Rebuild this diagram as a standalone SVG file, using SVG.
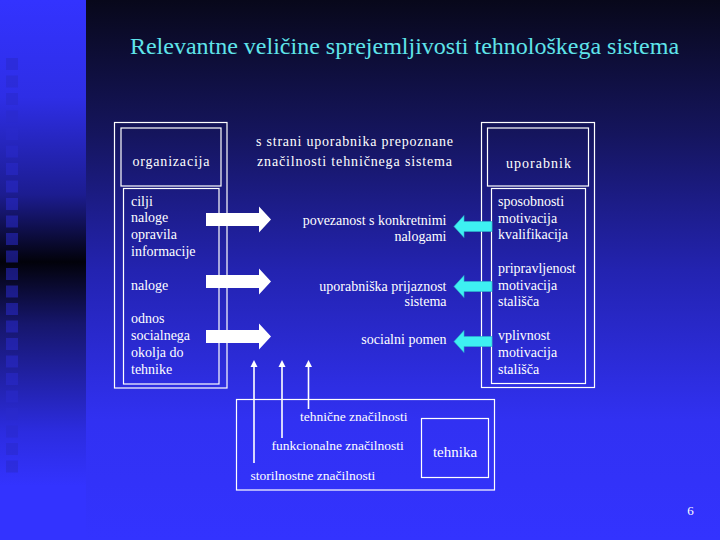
<svg xmlns="http://www.w3.org/2000/svg" width="720" height="540" viewBox="0 0 720 540">
  <defs>
    <linearGradient id="bgMain" x1="0" y1="0" x2="0" y2="1">
      <stop offset="0" stop-color="#08081a"/>
      <stop offset="0.25" stop-color="#15155e"/>
      <stop offset="0.5" stop-color="#2323b0"/>
      <stop offset="0.78" stop-color="#3131f2"/>
      <stop offset="1" stop-color="#3333ff"/>
    </linearGradient>
    <linearGradient id="bgLeft" x1="0" y1="0" x2="0" y2="1">
      <stop offset="0" stop-color="#3333ff"/>
      <stop offset="0.18" stop-color="#2e2ee6"/>
      <stop offset="0.36" stop-color="#1c1c90"/>
      <stop offset="0.485" stop-color="#02020a"/>
      <stop offset="0.6" stop-color="#16166c"/>
      <stop offset="0.8" stop-color="#2c2ce0"/>
      <stop offset="0.9" stop-color="#3333ff"/>
      <stop offset="1" stop-color="#3333ff"/>
    </linearGradient>
    <polygon id="rArrow" points="206,213 259,213 259,206.5 271,219.5 259,232.5 259,226 206,226"/>
    <polygon id="lArrow" points="454,0 464,-11 464,-5 492,-5 492,5 464,5 464,11"/>
    <polygon id="upHead" points="-3.5,7 0,0 3.5,7"/>
  </defs>
  <style>
    .box { fill: none; stroke: #ffffff; stroke-width: 1.2; }
    .t { font-family: "Liberation Serif", "Tinos", "DejaVu Serif", "Times New Roman", serif; fill: #ffffff; font-size: 14px; }
    .ts { font-family: "Liberation Serif", "Tinos", "DejaVu Serif", "Times New Roman", serif; fill: #ffffff; font-size: 13.5px; }
    .title { font-family: "Liberation Serif", "Tinos", "DejaVu Serif", "Times New Roman", serif; fill: #5fe4ea; font-size: 24px; text-anchor: middle; }
    .r { text-anchor: end; }
    .c { text-anchor: middle; }
    .sq { fill: #2a2acc; opacity: 0.55; }
    .wa { fill: #ffffff; }
    .ca { fill: #3ef0f2; stroke: #2bb8cc; stroke-width: 0.6; }
    .vl { stroke: #ffffff; stroke-width: 1.6; fill: none; }
    .hd { fill: #ffffff; }
  </style>

  <!-- background -->
  <rect x="0" y="0" width="720" height="540" fill="url(#bgMain)"/>
  <rect x="0" y="0" width="86" height="540" fill="url(#bgLeft)"/>
  <g id="squares">
    <rect class="sq" x="6" y="58" width="12" height="12"/>
    <rect class="sq" x="6" y="75.5" width="12" height="12"/>
    <rect class="sq" x="6" y="93" width="12" height="12"/>
    <rect class="sq" x="6" y="110.5" width="12" height="12"/>
    <rect class="sq" x="6" y="128" width="12" height="12"/>
    <rect class="sq" x="6" y="145.5" width="12" height="12"/>
    <rect class="sq" x="6" y="163" width="12" height="12"/>
    <rect class="sq" x="6" y="180.5" width="12" height="12"/>
    <rect class="sq" x="6" y="198" width="12" height="12"/>
    <rect class="sq" x="6" y="215.5" width="12" height="12"/>
    <rect class="sq" x="6" y="233" width="12" height="12"/>
    <rect class="sq" x="6" y="250.5" width="12" height="12"/>
    <rect class="sq" x="6" y="268" width="12" height="12"/>
    <rect class="sq" x="6" y="285.5" width="12" height="12"/>
    <rect class="sq" x="6" y="303" width="12" height="12"/>
    <rect class="sq" x="6" y="320.5" width="12" height="12"/>
    <rect class="sq" x="6" y="338" width="12" height="12"/>
    <rect class="sq" x="6" y="355.5" width="12" height="12"/>
    <rect class="sq" x="6" y="373" width="12" height="12"/>
    <rect class="sq" x="6" y="390.5" width="12" height="12"/>
    <rect class="sq" x="6" y="408" width="12" height="12"/>
    <rect class="sq" x="6" y="425.5" width="12" height="12"/>
    <rect class="sq" x="6" y="443" width="12" height="12"/>
    <rect class="sq" x="6" y="460.5" width="12" height="12"/>
  </g>

  <!-- title -->
  <text id="title" class="title" x="404.5" y="54">Relevantne veličine sprejemljivosti tehnološkega sistema</text>

  <!-- organizacija node -->
  <g id="organizacija">
    <rect class="box" x="114.5" y="122.5" width="112.5" height="265.5"/>
    <rect class="box" x="121" y="128" width="100" height="58"/>
    <rect class="box" x="123.5" y="188.5" width="95.5" height="195.5"/>
    <text class="t c" x="171" y="166" textLength="77" lengthAdjust="spacing">organizacija</text>
    <text class="t" x="131" y="206">cilji</text>
    <text class="t" x="131" y="222">naloge</text>
    <text class="t" x="131" y="239">opravila</text>
    <text class="t" x="131" y="256">informacije</text>
    <text class="t" x="131" y="290">naloge</text>
    <text class="t" x="131" y="323">odnos</text>
    <text class="t" x="131" y="340">socialnega</text>
    <text class="t" x="131" y="357">okolja do</text>
    <text class="t" x="131" y="374">tehnike</text>
  </g>

  <!-- middle heading -->
  <g id="znacilnosti">
    <text class="t c" x="354.5" y="146" textLength="197" lengthAdjust="spacing">s strani uporabnika prepoznane</text>
    <text class="t c" x="354.5" y="166" textLength="195" lengthAdjust="spacing">značilnosti tehničnega sistema</text>
    <text class="t r" x="446.5" y="225">povezanost s konkretnimi</text>
    <text class="t r" x="446.5" y="241">nalogami</text>
    <text class="t r" x="446.5" y="291">uporabniška prijaznost</text>
    <text class="t r" x="446.5" y="306">sistema</text>
    <text class="t r" x="446.5" y="344">socialni pomen</text>
  </g>

  <!-- uporabnik node -->
  <g id="uporabnik">
    <rect class="box" x="481.5" y="122.5" width="113" height="265"/>
    <rect class="box" x="487.5" y="128" width="101" height="58"/>
    <rect class="box" x="491.5" y="188.5" width="94" height="195"/>
    <text class="t c" x="538.5" y="168" textLength="65" lengthAdjust="spacing">uporabnik</text>
    <text class="t" x="498" y="206">sposobnosti</text>
    <text class="t" x="498" y="223">motivacija</text>
    <text class="t" x="498" y="239">kvalifikacija</text>
    <text class="t" x="498" y="273">pripravljenost</text>
    <text class="t" x="498" y="290">motivacija</text>
    <text class="t" x="498" y="306">stališča</text>
    <text class="t" x="498" y="340">vplivnost</text>
    <text class="t" x="498" y="357">motivacija</text>
    <text class="t" x="498" y="374">stališča</text>
  </g>

  <!-- tehnika node -->
  <g id="tehnika">
    <rect class="box" x="236.5" y="399.5" width="258" height="90.5"/>
    <rect class="box" x="421.5" y="418.5" width="67" height="59"/>
    <text class="t c" x="455" y="457" style="font-size:15px">tehnika</text>
    <text class="ts" x="300" y="421">tehnične značilnosti</text>
    <text class="ts" x="271.5" y="450">funkcionalne značilnosti</text>
    <text class="ts" x="250.5" y="480">storilnostne značilnosti</text>
  </g>

  <!-- connectors -->
  <g id="connectors">
    <use href="#rArrow" class="wa"/>
    <use href="#rArrow" class="wa" transform="translate(0,62)"/>
    <use href="#rArrow" class="wa" transform="translate(0,117)"/>
    <use href="#lArrow" class="ca" transform="translate(0,226.5)"/>
    <use href="#lArrow" class="ca" transform="translate(0,286.5)"/>
    <use href="#lArrow" class="ca" transform="translate(0,341.5)"/>
    <line class="vl" x1="254" y1="463" x2="254" y2="366"/>
    <line class="vl" x1="282" y1="438" x2="282" y2="366"/>
    <line class="vl" x1="308.5" y1="409" x2="308.5" y2="366"/>
    <use href="#upHead" class="hd" transform="translate(254,360)"/>
    <use href="#upHead" class="hd" transform="translate(282,360)"/>
    <use href="#upHead" class="hd" transform="translate(308.5,360)"/>
  </g>

  <text id="page" class="t c" x="690.5" y="515" style="font-size:13px">6</text>
</svg>
